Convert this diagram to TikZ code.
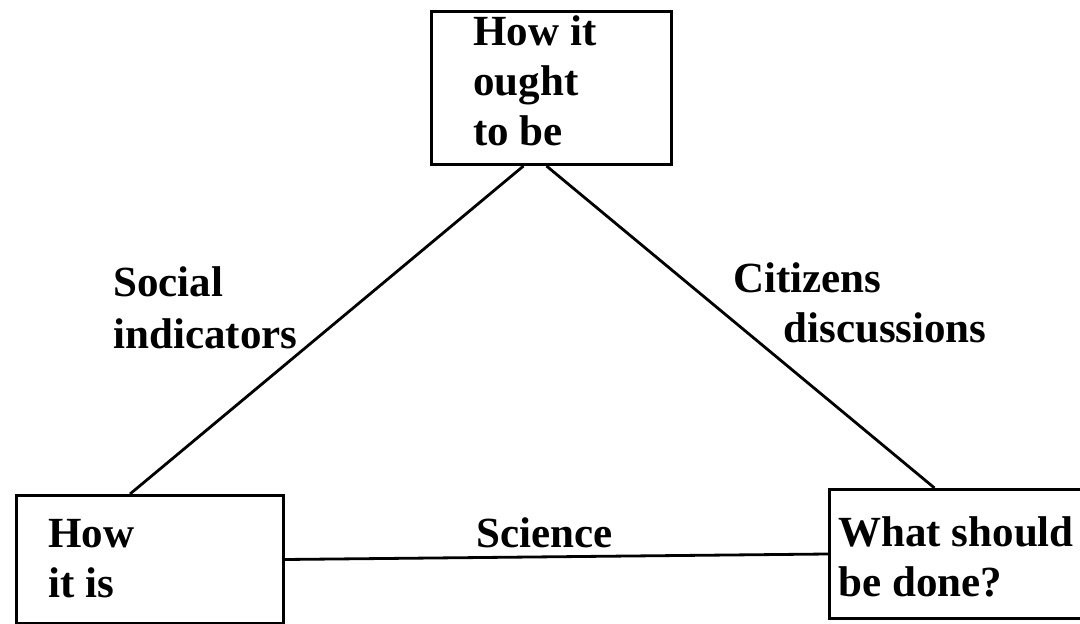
\documentclass[tikz,border=0pt]{standalone}
\usepackage{fontspec}
\setmainfont{Liberation Serif}
\begin{document}
\begin{tikzpicture}[x=0.5pt,y=-0.5pt,
  box/.style={draw, line width=1.5pt, rectangle, inner sep=0pt, anchor=north west},
  lbl/.style={font=\bfseries\fontsize{21.5}{25}\selectfont, inner sep=0pt, align=left, anchor=north west},
  link/.style={line width=1.4pt}]
\useasboundingbox (0,0) rectangle (1080,624);
\node[box, minimum width=120pt, minimum height=76.5pt] (top) at (430,10) {};
\node[box, minimum width=133.5pt, minimum height=64pt] (left) at (15,494) {};
\node[box, minimum width=131pt, minimum height=64.5pt] (right) at (828,488) {};
\node[lbl] (toptext) at (473,15) {How it\\ought\\to be};
\node[lbl] (lefttext) at (48,519) {How\\it is};
\node[lbl] (righttext) at (838,516) {What should\\be done?};
\node[lbl, font=\bfseries\fontsize{21.5}{26}\selectfont] (social) at (113,266) {Social\\indicators};
\node[lbl] (citizens) at (733,262) {Citizens\\\hspace*{25pt}discussions};
\node[lbl, anchor=base west] (science) at (476,547) {Science};
\draw[link] ([xshift=-14pt]top.south) -- ([xshift=-10pt]left.north);
\draw[link] ([xshift=-2.5pt]top.south) -- ([xshift=-13pt]right.north);
\draw[link] (left.east) -- (right.west);
\end{tikzpicture}
\end{document}
